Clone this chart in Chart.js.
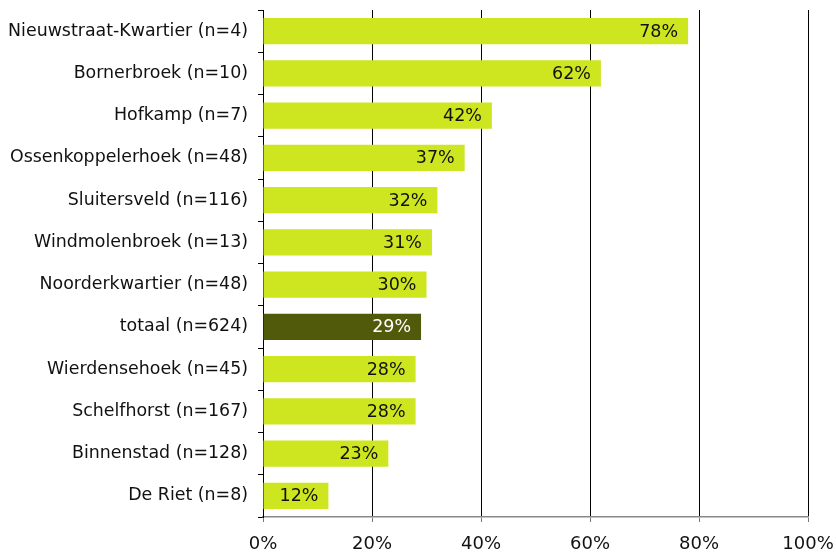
<!DOCTYPE html>
<html>
<head>
<meta charset="utf-8">
<script src="https://cdn.jsdelivr.net/npm/chart.js@4/dist/chart.umd.min.js"></script>
<style>
  html, body { margin: 0; padding: 0; background: #fff; }
  #wrap { width: 836px; height: 555px; }
</style>
</head>
<body>
<div id="wrap"><canvas id="c" width="836" height="555"></canvas></div>
<script>
const categories = [
  'Nieuwstraat-Kwartier (n=4)',
  'Bornerbroek (n=10)',
  'Hofkamp (n=7)',
  'Ossenkoppelerhoek (n=48)',
  'Sluitersveld (n=116)',
  'Windmolenbroek (n=13)',
  'Noorderkwartier (n=48)',
  'totaal (n=624)',
  'Wierdensehoek (n=45)',
  'Schelfhorst (n=167)',
  'Binnenstad (n=128)',
  'De Riet (n=8)'
];
const values = [78, 62, 42, 37, 32, 31, 30, 29, 28, 28, 23, 12];
const xTicks = [0, 20, 40, 60, 80, 100];
const totalLabel = 'totaal (n=624)';

const LIME = '#cde61f';
const OLIVE = '#505a0a';
const FONT = "'DejaVu Sans', sans-serif";

const barColors = categories.map(c => c === totalLabel ? OLIVE : LIME);

// Writes each bar's percentage inside its right end
const valueLabels = {
  id: 'valueLabels',
  afterDatasetsDraw(chart) {
    const ctx = chart.ctx;
    const meta = chart.getDatasetMeta(0);
    ctx.save();
    ctx.font = '17.5px ' + FONT;
    ctx.textAlign = 'right';
    ctx.textBaseline = 'middle';
    meta.data.forEach((bar, i) => {
      ctx.fillStyle = categories[i] === totalLabel ? '#ffffff' : '#111111';
      ctx.fillText(values[i] + '%', bar.x - 10, bar.y + 1);
    });
    ctx.restore();
  }
};

new Chart(document.getElementById('c'), {
  type: 'bar',
  data: {
    labels: categories,
    datasets: [{
      data: values,
      backgroundColor: barColors,
      borderWidth: 0,
      barPercentage: 0.62,
      categoryPercentage: 1
    }]
  },
  options: {
    indexAxis: 'y',
    responsive: false,
    animation: false,
    layout: { padding: { top: 10, right: 28, left: 0, bottom: 0 } },
    plugins: { legend: { display: false }, tooltip: { enabled: false } },
    scales: {
      x: {
        min: 0,
        max: 100,
        afterBuildTicks(axis) { axis.ticks = xTicks.map(v => ({ value: v })); },
        afterFit(axis) {
          axis.height = 38;
          axis.paddingLeft = 0;
          axis.paddingRight = 0;
        },
        grid: { color: '#000000', lineWidth: 1, tickLength: 5, tickColor: '#777777' },
        border: { color: '#888888', width: 1.5 },
        ticks: {
          padding: 12,
          color: '#111111',
          font: { family: FONT, size: 18 },
          callback: v => v + '%'
        }
      },
      y: {
        afterFit(axis) {
          axis.width = 263;
          axis.paddingTop = 0;
          axis.paddingBottom = 0;
        },
        grid: { drawOnChartArea: false, offset: true, tickLength: 5, color: '#000000' },
        border: { color: '#000000', width: 1 },
        ticks: {
          padding: 10,
          color: '#111111',
          font: { family: FONT, size: 17.4 }
        }
      }
    }
  },
  plugins: [valueLabels]
});
</script>
</body>
</html>
